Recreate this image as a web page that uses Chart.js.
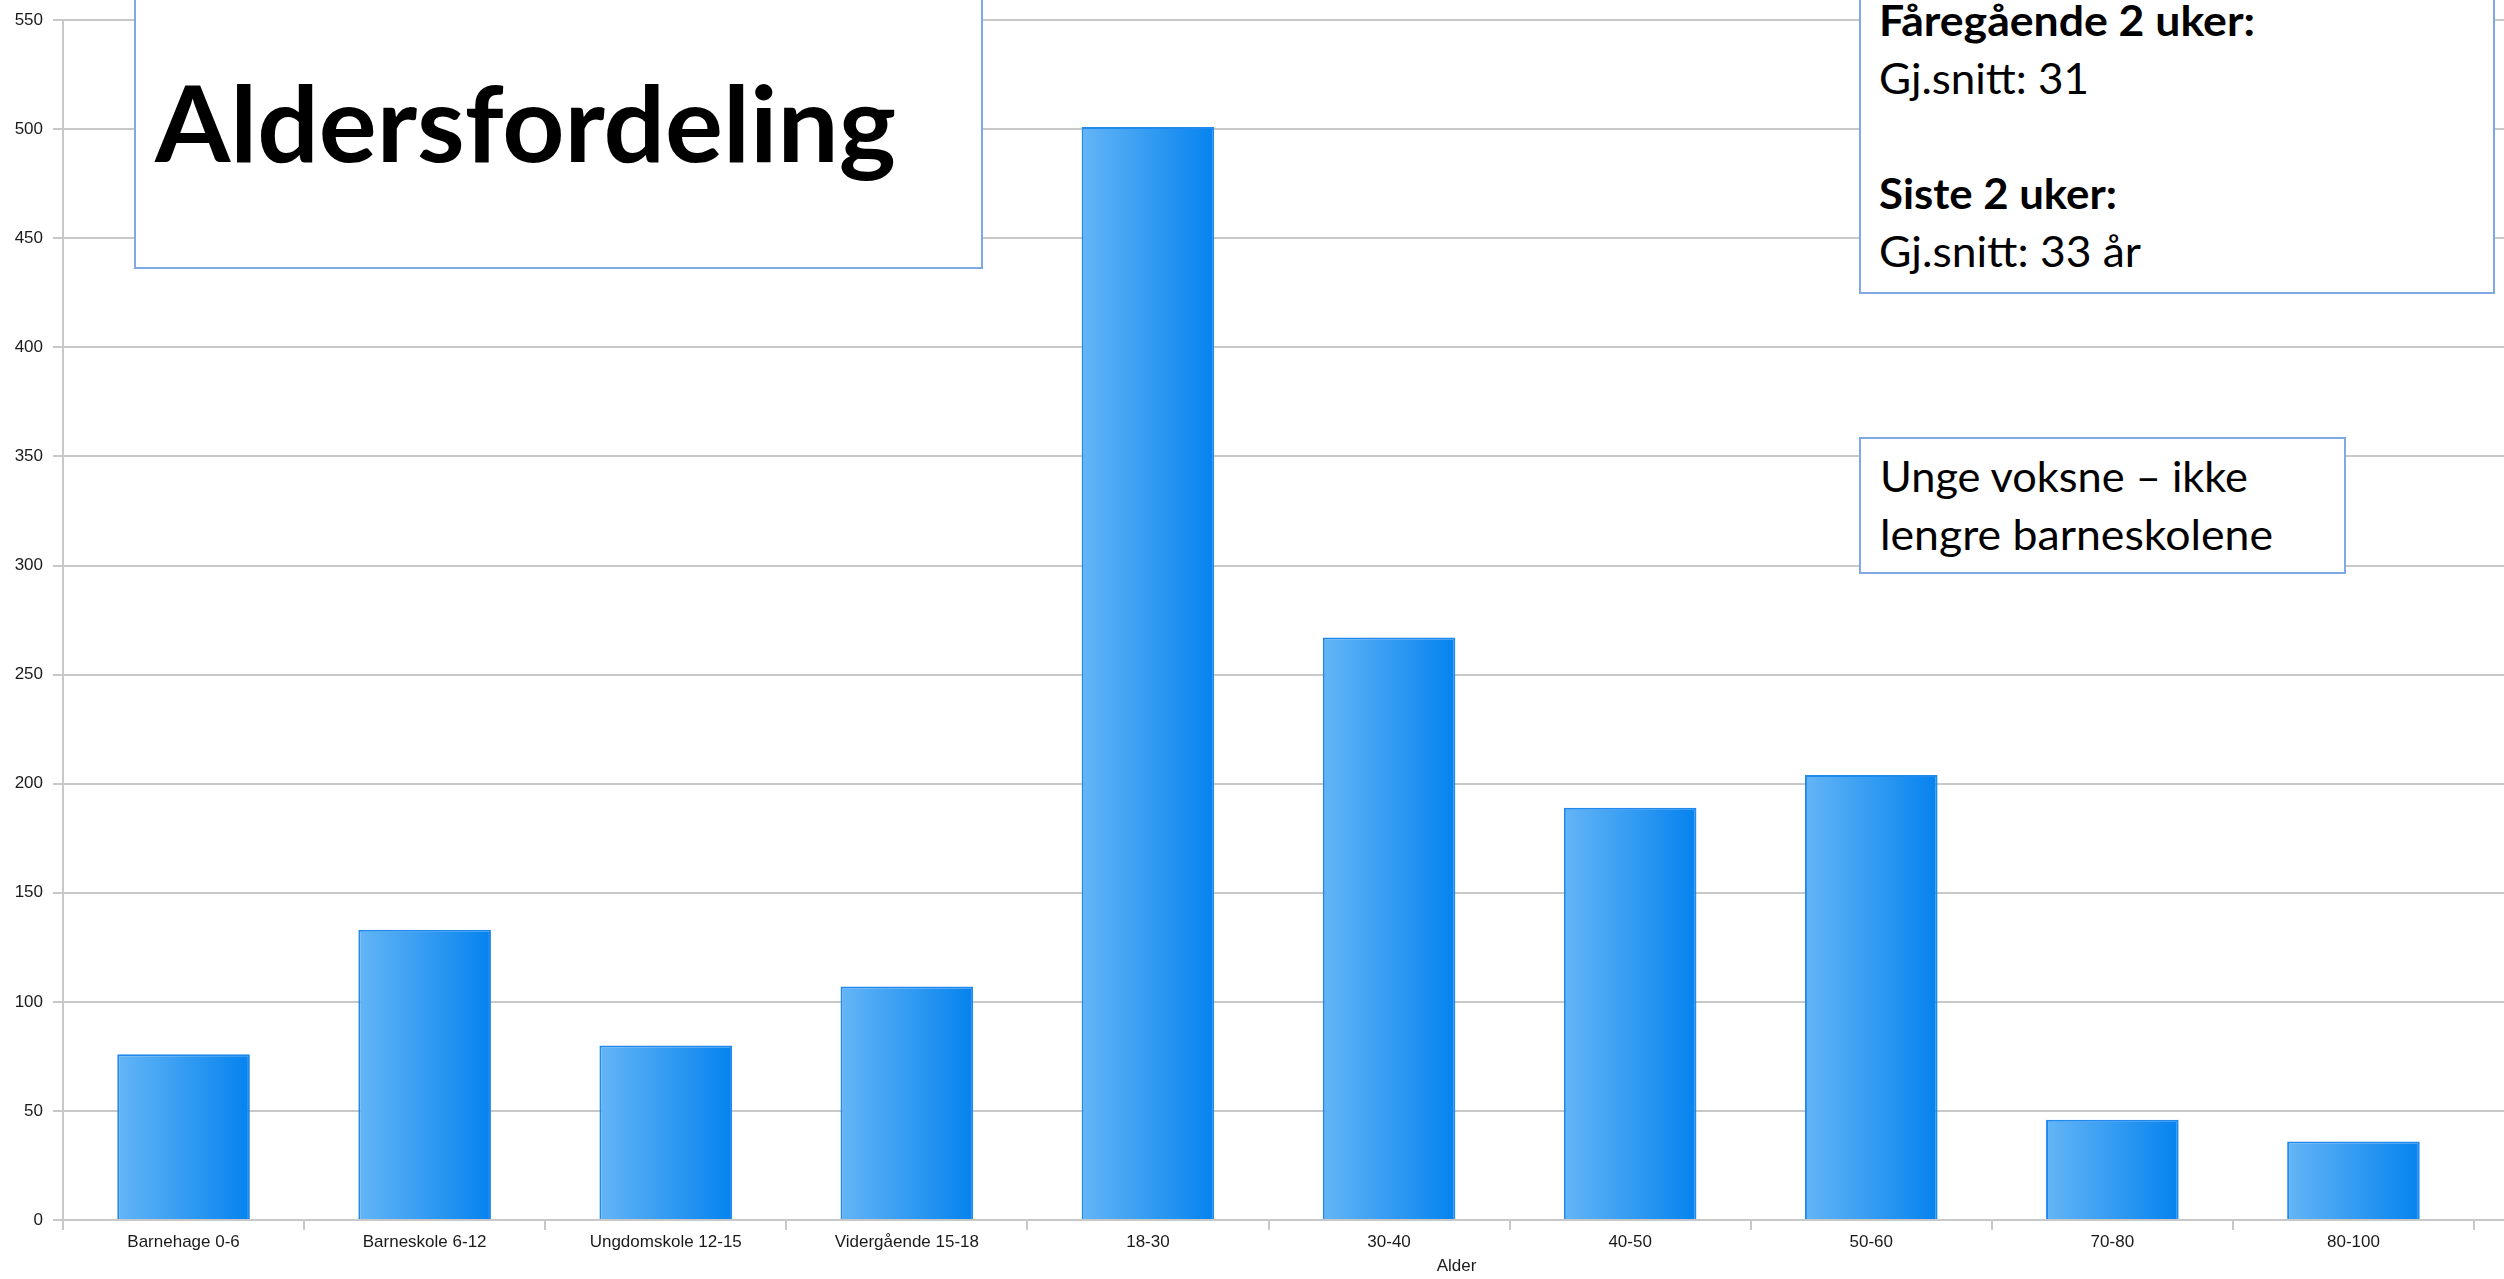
<!DOCTYPE html>
<html>
<head>
<meta charset="utf-8">
<script src="https://cdn.jsdelivr.net/npm/chart.js@4.4.0/dist/chart.umd.min.js"></script>
<style>
    body { margin: 0; background: #fff; }
    #wrap { position: relative; width: 2504px; height: 1279px; overflow: hidden; }
    canvas { position: absolute; left: 0; top: 0; }
    .note { position: absolute; box-sizing: border-box; background: #fff; border: 2px solid #7ea9e3; }
    .line { position: absolute; white-space: nowrap; line-height: 1; font-family: Lato, "Open Sans", sans-serif; color: #000; transform-origin: 0 0; }
    .bold { font-weight: 700; }
</style>
</head>
<body>
<div id="wrap">
    <canvas id="ageChart" width="2504" height="1279"></canvas>

    <div class="note" style="left:134px; top:-4px; width:849px; height:273px;"></div>
    <div class="line bold fit" data-w="741" style="left:155px; top:69px; font-size:105px;">Aldersfordeling</div>

    <div class="note" style="left:1859px; top:-4px; width:636px; height:298px;"></div>
    <div class="line bold fit" data-w="376" style="left:1879px; top:-1px; font-size:42px;">Fåregående 2 uker:</div>
    <div class="line fit" data-w="210" style="left:1879px; top:57px; font-size:42px;">Gj.snitt: 31</div>
    <div class="line bold fit" data-w="238" style="left:1879px; top:172px; font-size:42px;">Siste 2 uker:</div>
    <div class="line fit" data-w="262" style="left:1879px; top:230px; font-size:42px;">Gj.snitt: 33 år</div>

    <div class="note" style="left:1859px; top:437px; width:487px; height:137px;"></div>
    <div class="line fit" data-w="368" style="left:1880px; top:455px; font-size:42px;">Unge voksne – ikke</div>
    <div class="line fit" data-w="393" style="left:1880px; top:513px; font-size:42px;">lengre barneskolene</div>
</div>

<script>
// Chart data
const ageGroups = [
    'Barnehage 0-6', 'Barneskole 6-12', 'Ungdomskole 12-15', 'Vidergående 15-18',
    '18-30', '30-40', '40-50', '50-60', '70-80', '80-100'
];
const counts = [76, 133, 80, 107, 501, 267, 189, 204, 46, 36];
const yTicks = { min: 0, max: 550, step: 50 };
const xTitle = 'Alder';

const BAR_PCT = 0.55;
const GRID = '#c8c8c8';
const labelFont = { family: '"Liberation Sans", Arial, sans-serif', size: 17 };

// Stretch each annotation line to the width measured in the picture
document.querySelectorAll('.fit').forEach(el => {
    const target = parseFloat(el.dataset.w);
    const w = el.getBoundingClientRect().width;
    if (w > 0) el.style.transform = `scaleX(${target / w})`;
});

// Horizontal blue gradient per bar
function barGradient(context) {
    const chart = context.chart;
    if (!chart.chartArea || context.dataIndex === undefined) return '#2f98f2';
    const xs = chart.scales.x;
    const cx = xs.getPixelForValue(context.dataIndex);
    const half = xs.width / ageGroups.length * BAR_PCT / 2;
    const g = chart.ctx.createLinearGradient(cx - half, 0, cx + half, 0);
    g.addColorStop(0, '#64b5f6');
    g.addColorStop(1, '#0583ef');
    return g;
}

// Grid lines run on to the right edge of the picture
const extendGrid = {
    id: 'extendGrid',
    beforeDatasetsDraw(chart) {
        const { ctx, chartArea, scales } = chart;
        ctx.save();
        ctx.strokeStyle = GRID;
        ctx.lineWidth = 2;
        scales.y.ticks.forEach(t => {
            const y = Math.round(scales.y.getPixelForValue(t.value));
            ctx.beginPath();
            ctx.moveTo(chartArea.right, y);
            ctx.lineTo(chart.width, y);
            ctx.stroke();
        });
        ctx.restore();
    }
};

// Axis title sits right of centre in the original
const axisTitle = {
    id: 'axisTitle',
    afterDraw(chart) {
        const { ctx, chartArea } = chart;
        ctx.save();
        ctx.font = `${labelFont.size}px ${labelFont.family}`;
        ctx.fillStyle = '#1a1a1a';
        ctx.textAlign = 'center';
        ctx.textBaseline = 'middle';
        ctx.fillText(xTitle, chartArea.left + 0.578 * (chartArea.right - chartArea.left), 1266);
        ctx.restore();
    }
};

new Chart(document.getElementById('ageChart'), {
    type: 'bar',
    data: {
        labels: ageGroups,
        datasets: [{
            data: counts,
            backgroundColor: barGradient,
            borderColor: '#2089ee',
            borderWidth: 2,
            barPercentage: BAR_PCT,
            categoryPercentage: 1
        }]
    },
    options: {
        responsive: false,
        animation: false,
        layout: { padding: { top: 19, right: 30, left: 0, bottom: 0 } },
        plugins: {
            legend: { display: false },
            tooltip: { enabled: false }
        },
        scales: {
            x: {
                grid: { drawOnChartArea: false, tickLength: 10, color: GRID, lineWidth: 2, offset: true },
                border: { color: GRID, width: 2 },
                ticks: { font: labelFont, color: '#1a1a1a', padding: 2, maxRotation: 0, autoSkip: false },
                afterFit: scale => { scale.height = 59; }
            },
            y: {
                min: yTicks.min,
                max: yTicks.max,
                ticks: { stepSize: yTicks.step, font: labelFont, color: '#1a1a1a', padding: 10 },
                grid: { color: GRID, lineWidth: 2, tickLength: 10 },
                border: { color: GRID, width: 2 },
                afterFit: scale => { scale.width = 63; }
            }
        }
    },
    plugins: [extendGrid, axisTitle]
});
</script>
</body>
</html>
